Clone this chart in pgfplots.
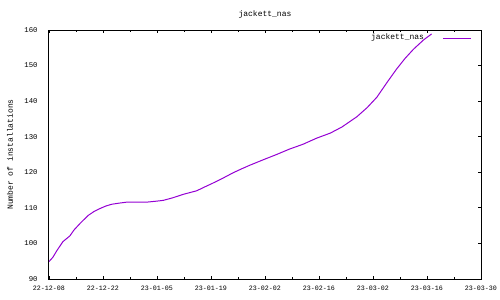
\documentclass[border=0pt]{standalone}
\usepackage{pgfplots}
\pgfplotsset{compat=1.18}
\usepackage{fontspec}
\setmainfont{Liberation Mono}
\definecolor{gpviolet}{HTML}{9400D3}
\begin{document}
\begin{tikzpicture}[x=0.75pt,y=0.75pt]
\useasboundingbox (-49,-21) rectangle (451,279);
\begin{axis}[
  at={(0,0)}, anchor=south west,
  scale only axis, width=324pt, height=186.75pt,
  xmin=0, xmax=112, ymin=90, ymax=160,
  xtick={0,14,...,112},
  xticklabels={22-12-08,22-12-22,23-01-05,23-01-19,23-02-02,23-02-16,23-03-02,23-03-16,23-03-30},
  minor xtick={7,21,...,105},
  ytick={90,100,...,160},
  ytick pos=right, yticklabel pos=left,
  xtick pos=both, xticklabel pos=left,
  tick align=inside,
  major tick length=2.5pt, minor tick length=1.5pt,
  tick style={black, line width=0.6pt},
  axis line style={black, line width=0.75pt},
  ticklabel style={font=\fontsize{5}{6}\selectfont},
  yticklabel style={font=\fontsize{5.5}{6}\selectfont, xshift=-5pt},
  /pgf/number format/assume math mode=true,
  xticklabel style={yshift=-2pt},
  title={jackett\_nas},
  every axis title shift=0pt,
  title style={font=\fontsize{6}{7}\selectfont, at={(axis description cs:0.5,1)}, anchor=center, yshift=12pt},
  ylabel={Number of installations},
  ylabel style={font=\fontsize{6}{7}\selectfont, at={(axis description cs:-0.0903,0.5)}, anchor=center},
  legend style={draw=none, fill=none, at={(0.979,0.995)}, anchor=north east,
    font=\fontsize{6}{7}\selectfont, inner sep=0pt, row sep=0pt},
  legend plot pos=right,
  legend cell align=right,
  legend image code/.code={\path (0cm,0cm); \draw[#1] (0.42cm,0cm) -- (1.16cm,0cm);},
]
\addplot[gpviolet, line width=0.75pt] coordinates {
(0,94.9) (1,96.1) (2,97.9) (3.6,100.5) (5.4,102.1) (6.5,103.8) (8.3,105.9) (10.2,107.9)
(11.7,109.0) (13.2,109.8) (14.7,110.5) (16.2,111.0) (18,111.3) (20.1,111.6) (22.5,111.6)
(25.3,111.6) (28,111.9) (29.6,112.1) (32,112.8) (34.8,113.8) (38.3,114.8) (40.2,115.8)
(42.2,116.8) (45,118.3) (47.8,119.9) (50,121.0) (52.1,122.0) (55.5,123.5) (59,125.0)
(62.3,126.5) (65.9,127.9) (69.4,129.6) (72.9,131.0) (75.9,132.7) (79.8,135.6) (82.5,138.2)
(85,141.1) (87.6,145.2) (90.1,149.0) (92.3,152.0) (94.5,154.6) (97.1,157.2) (99.2,158.9)
};
\addlegendentry{jackett\_nas}
\end{axis}
\end{tikzpicture}
\end{document}
